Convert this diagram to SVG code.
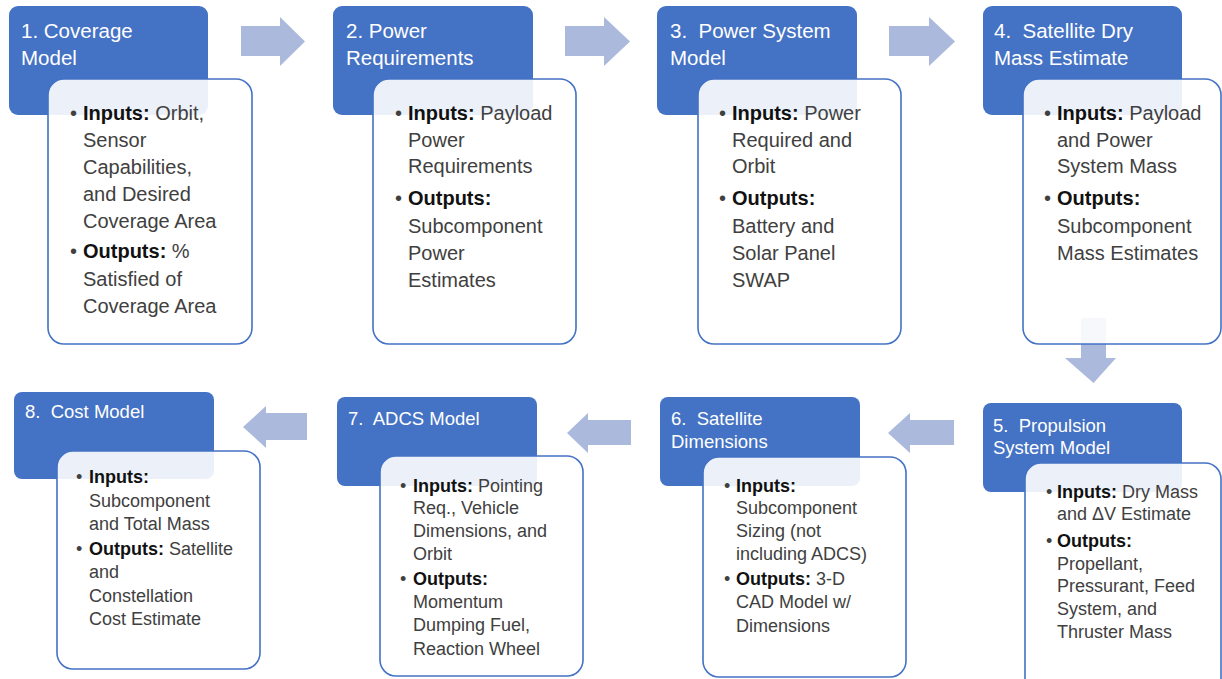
<svg xmlns="http://www.w3.org/2000/svg" width="1222" height="679" viewBox="0 0 1222 679">
<style>
.hdr{fill:#4472C4}
.card{fill:#ffffff;fill-opacity:0.9;stroke:#4472C4;stroke-width:1.6}
.arr{fill:#ABB9DC}
.t{font-family:"Liberation Sans",Arial,sans-serif;fill:#ffffff;font-size:20.5px;white-space:pre}
.tb{font-size:18.5px}
.b{font-family:"Liberation Sans",Arial,sans-serif;fill:#404040;font-size:20px}
.bs{font-size:18px}
.k{font-weight:bold;fill:#111111}
</style>
<rect width="1222" height="679" fill="#ffffff"/>
<g id="connectors">
<polygon class="arr" points="241,26 280,26 280,17 305,41.5 280,66 280,56 241,56"/>
<polygon class="arr" points="565,26 604,26 604,17 630,41.5 604,66 604,56 565,56"/>
<polygon class="arr" points="889,26 929,26 929,17 955,41.5 929,66 929,56 889,56"/>
<polygon class="arr" points="1081,318 1106,318 1106,358 1116,358 1093.5,383 1065,358 1081,358"/>
<polygon class="arr" points="954,420 910,420 910,413 888,433 910,453 910,445 954,445"/>
<polygon class="arr" points="631,420 588,420 588,413 567,433 588,453 588,445 631,445"/>
<polygon class="arr" points="307,413 266,413 266,406 243,427 266,448 266,440 307,440"/>
</g>
<g id="node1">
<rect class="hdr" x="9" y="6" width="199" height="109" rx="9"/>
<text class="t" x="21" y="38">1. Coverage</text>
<text class="t" x="21" y="65">Model</text>
<rect class="card" x="48" y="79" width="204" height="265" rx="16"/>
<text class="b" x="70" y="120">•</text>
<text class="b" x="83" y="120"><tspan class="k">Inputs:</tspan> Orbit,</text>
<text class="b" x="83" y="147">Sensor</text>
<text class="b" x="83" y="174">Capabilities,</text>
<text class="b" x="83" y="201">and Desired</text>
<text class="b" x="83" y="228">Coverage Area</text>
<text class="b" x="70" y="258">•</text>
<text class="b" x="83" y="258"><tspan class="k">Outputs:</tspan> %</text>
<text class="b" x="83" y="286">Satisfied of</text>
<text class="b" x="83" y="313">Coverage Area</text>
</g>
<g id="node2">
<rect class="hdr" x="333" y="6" width="200" height="109" rx="9"/>
<text class="t" x="346" y="38">2. Power</text>
<text class="t" x="346" y="65">Requirements</text>
<rect class="card" x="373" y="79" width="203" height="265" rx="16"/>
<text class="b" x="395" y="120">•</text>
<text class="b" x="408" y="120"><tspan class="k">Inputs:</tspan> Payload</text>
<text class="b" x="408" y="147">Power</text>
<text class="b" x="408" y="173">Requirements</text>
<text class="b" x="395" y="205">•</text>
<text class="b" x="408" y="205"><tspan class="k">Outputs:</tspan></text>
<text class="b" x="408" y="233">Subcomponent</text>
<text class="b" x="408" y="260">Power</text>
<text class="b" x="408" y="287">Estimates</text>
</g>
<g id="node3">
<rect class="hdr" x="657" y="6" width="200" height="109" rx="9"/>
<text class="t" x="670" y="38">3.  Power System</text>
<text class="t" x="670" y="65">Model</text>
<rect class="card" x="698" y="79" width="203" height="265" rx="16"/>
<text class="b" x="719" y="120">•</text>
<text class="b" x="732" y="120"><tspan class="k">Inputs:</tspan> Power</text>
<text class="b" x="732" y="147">Required and</text>
<text class="b" x="732" y="173">Orbit</text>
<text class="b" x="719" y="205">•</text>
<text class="b" x="732" y="205"><tspan class="k">Outputs:</tspan></text>
<text class="b" x="732" y="233">Battery and</text>
<text class="b" x="732" y="260">Solar Panel</text>
<text class="b" x="732" y="287">SWAP</text>
</g>
<g id="node4">
<rect class="hdr" x="983" y="6" width="199" height="109" rx="9"/>
<text class="t" x="994" y="38">4.  Satellite Dry</text>
<text class="t" x="994" y="65">Mass Estimate</text>
<rect class="card" x="1023" y="79" width="198" height="265" rx="16"/>
<text class="b" x="1044" y="120">•</text>
<text class="b" x="1057" y="120"><tspan class="k">Inputs:</tspan> Payload</text>
<text class="b" x="1057" y="147">and Power</text>
<text class="b" x="1057" y="173">System Mass</text>
<text class="b" x="1044" y="205">•</text>
<text class="b" x="1057" y="205"><tspan class="k">Outputs:</tspan></text>
<text class="b" x="1057" y="233">Subcomponent</text>
<text class="b" x="1057" y="260">Mass Estimates</text>
</g>
<g id="node5">
<rect class="hdr" x="983" y="403" width="199" height="89" rx="8"/>
<text class="t tb" x="993" y="432">5.  Propulsion</text>
<text class="t tb" x="993" y="454">System Model</text>
<rect class="card" x="1025" y="463" width="196" height="240" rx="16"/>
<text class="b bs" x="1046" y="498">•</text>
<text class="b bs" x="1057" y="498"><tspan class="k">Inputs:</tspan> Dry Mass</text>
<text class="b bs" x="1057" y="520">and ΔV Estimate</text>
<text class="b bs" x="1046" y="547">•</text>
<text class="b bs" x="1057" y="547"><tspan class="k">Outputs:</tspan></text>
<text class="b bs" x="1057" y="570">Propellant,</text>
<text class="b bs" x="1057" y="592">Pressurant, Feed</text>
<text class="b bs" x="1057" y="615">System, and</text>
<text class="b bs" x="1057" y="638">Thruster Mass</text>
</g>
<g id="node6">
<rect class="hdr" x="660" y="397" width="200" height="89" rx="8"/>
<text class="t tb" x="671" y="425">6.  Satellite</text>
<text class="t tb" x="671" y="448">Dimensions</text>
<rect class="card" x="703" y="457" width="203" height="220" rx="16"/>
<text class="b bs" x="724" y="492">•</text>
<text class="b bs" x="736" y="492"><tspan class="k">Inputs:</tspan></text>
<text class="b bs" x="736" y="514">Subcomponent</text>
<text class="b bs" x="736" y="537">Sizing (not</text>
<text class="b bs" x="736" y="560">including ADCS)</text>
<text class="b bs" x="724" y="585">•</text>
<text class="b bs" x="736" y="585"><tspan class="k">Outputs:</tspan> 3-D</text>
<text class="b bs" x="736" y="608">CAD Model w/</text>
<text class="b bs" x="736" y="632">Dimensions</text>
</g>
<g id="node7">
<rect class="hdr" x="337" y="397" width="200" height="89" rx="8"/>
<text class="t tb" x="348" y="425">7.  ADCS Model</text>
<rect class="card" x="380" y="456" width="203" height="220" rx="16"/>
<text class="b bs" x="400" y="492">•</text>
<text class="b bs" x="413" y="492"><tspan class="k">Inputs:</tspan> Pointing</text>
<text class="b bs" x="413" y="514">Req., Vehicle</text>
<text class="b bs" x="413" y="537">Dimensions, and</text>
<text class="b bs" x="413" y="560">Orbit</text>
<text class="b bs" x="400" y="585">•</text>
<text class="b bs" x="413" y="585"><tspan class="k">Outputs:</tspan></text>
<text class="b bs" x="413" y="608">Momentum</text>
<text class="b bs" x="413" y="631">Dumping Fuel,</text>
<text class="b bs" x="413" y="655">Reaction Wheel</text>
</g>
<g id="node8">
<rect class="hdr" x="14" y="392" width="200" height="87" rx="8"/>
<text class="t tb" x="25" y="418">8.  Cost Model</text>
<rect class="card" x="57" y="451" width="203" height="218" rx="16"/>
<text class="b bs" x="76" y="483">•</text>
<text class="b bs" x="89" y="483"><tspan class="k">Inputs:</tspan></text>
<text class="b bs" x="89" y="507">Subcomponent</text>
<text class="b bs" x="89" y="530">and Total Mass</text>
<text class="b bs" x="76" y="555">•</text>
<text class="b bs" x="89" y="555"><tspan class="k">Outputs:</tspan> Satellite</text>
<text class="b bs" x="89" y="578">and</text>
<text class="b bs" x="89" y="602">Constellation</text>
<text class="b bs" x="89" y="625">Cost Estimate</text>
</g>
</svg>
